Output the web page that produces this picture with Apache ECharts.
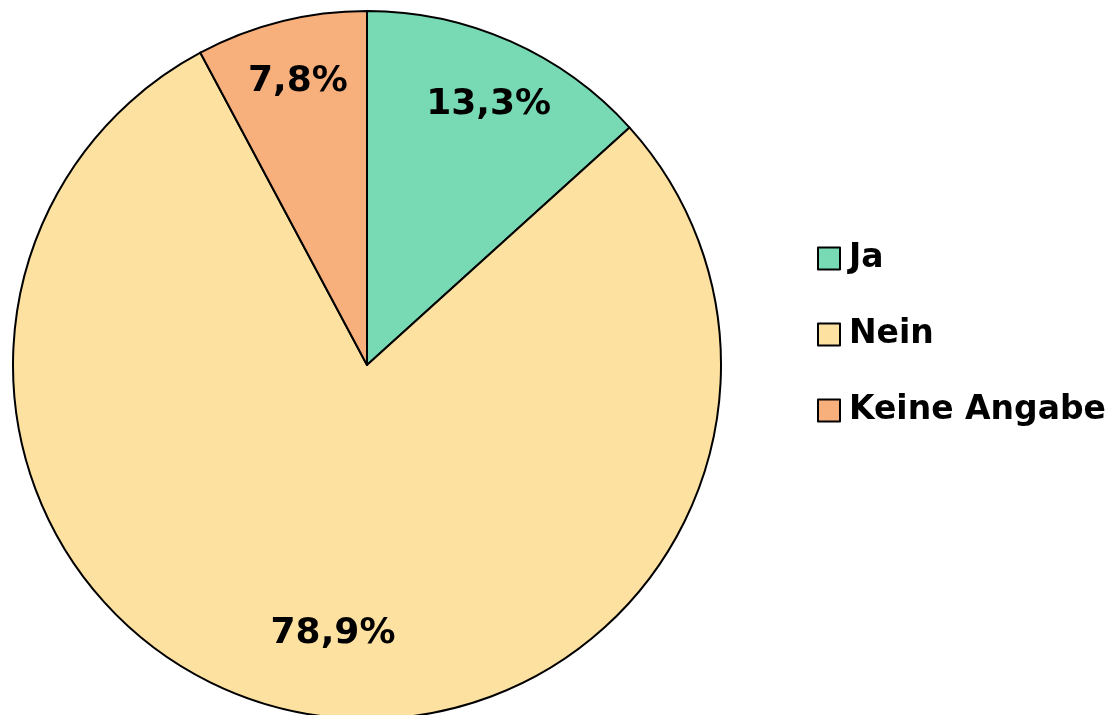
<!DOCTYPE html>
<html>
<head>
<meta charset="utf-8">
<script src="https://cdn.jsdelivr.net/npm/echarts@6/dist/echarts.min.js"></script>
<style>
  html, body { margin: 0; padding: 0; background: #fff; }
  #chart { width: 1110px; height: 715px; }
</style>
</head>
<body>
<div id="chart"></div>
<script>
const categories = ['Ja', 'Nein', 'Keine Angabe']
const shares = [13.3, 78.9, 7.8]
const colors = ['#78DAB5', '#FDE1A1', '#F7AF7C']
const labelNudge = [[6, 0], [15, -12], [0, -7]]

const font = '"DejaVu Sans", Verdana, sans-serif'
const pieData = categories.map((name, i) => ({
    name,
    value: shares[i],
    itemStyle: { color: colors[i] }
}))

const chart = echarts.init(document.getElementById('chart'))
chart.setOption({
    animation: false,
    legend: {
        orient: 'vertical',
        left: 812,
        top: 237,
        itemWidth: 22,
        itemHeight: 22,
        itemGap: 43,
        icon: 'rect',
        itemStyle: { borderColor: '#000', borderWidth: 2 },
        textStyle: {
            fontFamily: font,
            fontWeight: 'bold',
            fontSize: 33,
            lineHeight: 33,
            color: '#000',
            padding: [0, 0, 0, 4]
        },
        data: categories
    },
    series: [
        {
            type: 'pie',
            center: [367, 365],
            radius: [0, 354],
            startAngle: 90,
            clockwise: true,
            silent: true,
            itemStyle: { borderColor: '#000', borderWidth: 2 },
            label: { show: false },
            labelLine: { show: false },
            data: pieData
        },
        {
            // transparent overlay only used to place the labels near the rim
            type: 'pie',
            center: [367, 365],
            radius: [210, 354],
            startAngle: 90,
            clockwise: true,
            silent: true,
            itemStyle: { color: 'rgba(0,0,0,0)', borderWidth: 0 },
            label: {
                show: true,
                position: 'inside',
                formatter: p => p.value.toFixed(1).replace('.', ',') + '%',
                fontFamily: font,
                fontWeight: 'bold',
                fontSize: 36,
                color: '#000'
            },
            labelLine: { show: false },
            data: categories.map((name, i) => ({
                name,
                value: shares[i],
                label: { offset: labelNudge[i] }
            }))
        }
    ]
})
</script>
</body>
</html>
